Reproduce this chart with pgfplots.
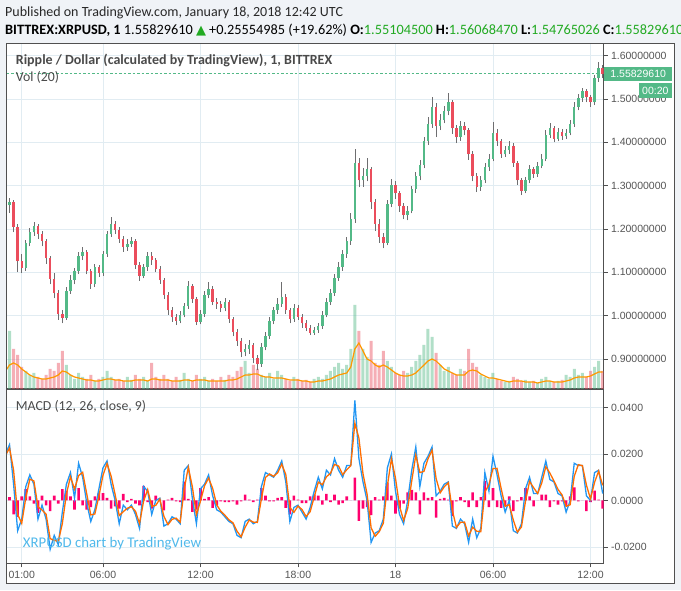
\documentclass[border=0pt]{standalone}
\usepackage{pgfplots}
\pgfplotsset{compat=1.18}
\usepackage{pgfplotstable}
\usepackage{fontspec}
\setmainfont{Carlito}
\newfontfamily\lib{Liberation Sans}
\newfontfamily\dejavu{DejaVu Sans}
\definecolor{upc}{RGB}{83,185,135}
\definecolor{dnc}{RGB}{235,77,92}
\definecolor{wickc}{RGB}{110,110,112}
\definecolor{gridc}{RGB}{225,236,242}
\definecolor{framec}{RGB}{80,80,80}
\definecolor{bgc}{RGB}{240,243,247}
\definecolor{txtc}{RGB}{74,74,74}
\definecolor{scalec}{RGB}{85,85,85}
\definecolor{macdc}{RGB}{33,150,243}
\definecolor{sigc}{RGB}{255,109,0}
\definecolor{histc}{RGB}{255,0,110}
\definecolor{volma}{RGB}{255,152,0}
\definecolor{hdrgreen}{RGB}{34,170,34}
\definecolor{wmblue}{RGB}{80,185,235}
\definecolor{hdrtxt}{RGB}{40,40,40}

\pgfplotstableread{
t o h l c v vm m s hg
0 1.240 1.262 1.228 1.255 30 18 0.020 0.0193 0.0007
0.25 1.255 1.271 1.238 1.262 58 24 0.024 0.0226 0.0014
0.5 1.262 1.266 1.192 1.205 40 26 0.007 0.0130 -0.0060
0.75 1.205 1.212 1.100 1.125 34 24 -0.013 -0.0060 -0.0070
1 1.125 1.142 1.098 1.110 22 20 -0.008 -0.0098 0.0018
1.25 1.110 1.175 1.104 1.168 18 17 0.006 0.0011 0.0049
1.5 1.168 1.202 1.160 1.192 14 14 0.011 0.0092 0.0018
1.75 1.192 1.216 1.184 1.208 16 12 0.007 0.0084 -0.0014
2 1.208 1.212 1.178 1.188 12 11 -0.008 -0.0027 -0.0053
2.25 1.188 1.195 1.160 1.172 10 10 -0.002 -0.0041 0.0021
2.5 1.172 1.178 1.120 1.132 14 10 -0.008 -0.0059 -0.0021
2.75 1.132 1.138 1.072 1.085 20 11 -0.021 -0.0164 -0.0046
3 1.085 1.098 1.040 1.052 18 12 -0.015 -0.0171 0.0021
3.25 1.052 1.060 0.990 1.003 26 14 -0.019 -0.0176 -0.0014
3.5 1.003 1.012 0.982 0.995 38 18 -0.005 -0.0099 0.0049
3.75 0.995 1.066 0.990 1.058 24 17 0.007 0.0028 0.0042
4 1.058 1.094 1.050 1.082 14 14 0.012 0.0102 0.0018
4.25 1.082 1.110 1.072 1.102 10 12 0.001 0.0049 -0.0039
4.5 1.102 1.146 1.096 1.138 16 11 0.016 0.0107 0.0053
4.75 1.138 1.158 1.128 1.148 12 10 0.010 0.0121 -0.0021
5 1.148 1.152 1.095 1.103 10 9 -0.001 0.0029 -0.0039
5.25 1.103 1.108 1.062 1.072 14 9 -0.009 -0.0062 -0.0028
5.5 1.072 1.120 1.066 1.112 8 8 -0.004 -0.0058 0.0018
5.75 1.112 1.118 1.090 1.098 10 8 0.005 0.0018 0.0032
6 1.098 1.150 1.092 1.142 12 9 0.014 0.0108 0.0032
6.25 1.142 1.196 1.136 1.188 18 10 0.017 0.0159 0.0011
6.5 1.188 1.227 1.182 1.212 12 10 0.007 0.0105 -0.0035
6.75 1.212 1.218 1.188 1.198 9 9 0.000 0.0025 -0.0025
7 1.198 1.204 1.168 1.178 10 9 -0.010 -0.0065 -0.0035
7.25 1.178 1.184 1.148 1.158 8 8 -0.002 -0.0048 0.0028
7.5 1.158 1.176 1.150 1.166 12 8 -0.004 -0.0033 -0.0007
7.75 1.166 1.182 1.158 1.172 9 8 -0.002 -0.0027 0.0007
8 1.172 1.176 1.108 1.118 14 9 -0.006 -0.0046 -0.0014
8.25 1.118 1.124 1.080 1.092 10 9 -0.012 -0.0099 -0.0021
8.5 1.092 1.120 1.086 1.112 12 9 0.006 -0.0003 0.0063
8.75 1.112 1.148 1.104 1.138 8 8 0.004 0.0047 -0.0007
9 1.138 1.146 1.118 1.128 26 10 -0.006 -0.0025 -0.0035
9.25 1.128 1.134 1.100 1.108 12 10 0.000 -0.0021 0.0021
9.5 1.108 1.114 1.074 1.082 10 9 0.001 0.0006 0.0004
9.75 1.082 1.088 1.038 1.048 14 9 -0.011 -0.0068 -0.0042
10 1.048 1.054 1.002 1.012 10 9 -0.010 -0.0104 0.0004
10.25 1.012 1.020 0.986 0.996 8 8 -0.007 -0.0081 0.0011
10.5 0.996 1.004 0.978 0.988 12 8 -0.008 -0.0076 -0.0004
10.75 0.988 1.010 0.982 1.002 9 8 -0.010 -0.0093 -0.0007
11 1.002 1.030 0.996 1.022 16 9 0.013 0.0049 0.0081
11.25 1.022 1.080 1.016 1.068 10 9 0.015 0.0143 0.0007
11.5 1.068 1.074 1.030 1.038 8 8 0.001 0.0059 -0.0049
11.75 1.038 1.044 0.978 0.986 14 9 -0.010 -0.0061 -0.0039
12 0.986 1.012 0.980 1.004 10 9 0.005 -0.0003 0.0053
12.25 1.004 1.056 0.998 1.048 12 9 0.007 0.0063 0.0007
12.5 1.048 1.077 1.040 1.062 8 8 0.011 0.0096 0.0014
12.75 1.062 1.068 1.024 1.032 10 8 0.002 0.0052 -0.0032
13 1.032 1.040 1.016 1.026 8 8 -0.004 -0.0019 -0.0021
13.25 1.026 1.034 1.008 1.018 12 8 -0.005 -0.0046 -0.0004
13.5 1.018 1.040 1.010 1.031 9 8 -0.007 -0.0063 -0.0007
13.75 1.031 1.036 0.984 0.992 14 9 -0.009 -0.0083 -0.0007
14 0.992 0.998 0.952 0.962 12 9 -0.010 -0.0096 -0.0004
14.25 0.962 0.970 0.930 0.941 18 10 -0.015 -0.0132 -0.0018
14.5 0.941 0.948 0.904 0.916 22 12 -0.016 -0.0156 -0.0004
14.75 0.916 0.934 0.906 0.922 28 14 -0.009 -0.0115 0.0025
15 0.922 0.944 0.912 0.932 16 14 -0.008 -0.0084 0.0004
15.25 0.932 0.938 0.890 0.902 24 15 -0.010 -0.0093 -0.0007
15.5 0.902 0.910 0.874 0.888 20 15 -0.009 -0.0094 0.0004
15.75 0.888 0.936 0.882 0.928 14 13 0.006 0.0007 0.0053
16 0.928 0.962 0.920 0.952 12 12 0.012 0.0099 0.0021
16.25 0.952 0.996 0.946 0.988 16 12 0.011 0.0114 -0.0004
16.5 0.988 1.020 0.980 1.012 10 11 0.010 0.0104 -0.0004
16.75 1.012 1.040 1.004 1.028 18 11 0.013 0.0119 0.0011
17 1.028 1.077 1.020 1.042 14 11 0.017 0.0156 0.0014
17.25 1.042 1.050 1.004 1.012 10 10 0.008 0.0112 -0.0032
17.5 1.012 1.018 0.982 0.992 8 9 -0.009 -0.0030 -0.0060
17.75 0.992 1.026 0.986 1.018 12 9 -0.003 -0.0051 0.0021
18 1.018 1.024 0.990 0.998 10 9 -0.002 -0.0024 0.0004
18.25 0.998 1.004 0.972 0.982 8 8 -0.005 -0.0039 -0.0011
18.5 0.982 0.990 0.964 0.972 9 8 -0.008 -0.0069 -0.0011
18.75 0.972 0.978 0.955 0.961 7 7 -0.003 -0.0048 0.0018
19 0.961 0.974 0.956 0.966 10 7 0.004 0.0015 0.0025
19.25 0.966 0.984 0.960 0.976 12 8 0.010 0.0079 0.0021
19.5 0.976 1.010 0.970 1.002 10 8 0.005 0.0068 -0.0018
19.75 1.002 1.040 0.996 1.032 14 9 0.013 0.0102 0.0028
20 1.032 1.062 1.024 1.052 18 10 0.011 0.0117 -0.0007
20.25 1.052 1.096 1.046 1.088 22 12 0.018 0.0155 0.0025
20.5 1.088 1.124 1.080 1.112 26 14 0.013 0.0148 -0.0018
20.75 1.112 1.152 1.104 1.142 20 15 0.010 0.0111 -0.0011
21 1.142 1.182 1.134 1.172 24 16 0.015 0.0132 0.0018
21.25 1.172 1.236 1.164 1.222 40 22 0.015 0.0150 0.0000
21.5 1.222 1.384 1.214 1.352 84 40 0.043 0.0332 0.0098
21.75 1.352 1.364 1.296 1.312 58 46 0.018 0.0268 -0.0088
22 1.312 1.340 1.298 1.322 40 38 0.008 0.0115 -0.0035
22.25 1.322 1.364 1.310 1.338 32 30 0.000 0.0028 -0.0028
22.5 1.338 1.344 1.246 1.262 48 28 -0.018 -0.0117 -0.0063
22.75 1.262 1.270 1.196 1.212 26 24 -0.014 -0.0154 0.0014
23 1.212 1.222 1.168 1.182 24 22 -0.013 -0.0134 0.0004
23.25 1.182 1.190 1.155 1.168 38 24 -0.008 -0.0098 0.0018
23.5 1.168 1.268 1.162 1.258 28 22 0.014 0.0063 0.0077
23.75 1.258 1.316 1.250 1.302 22 19 0.020 0.0179 0.0021
24 1.302 1.310 1.270 1.282 16 16 0.004 0.0096 -0.0056
24.25 1.282 1.288 1.240 1.252 14 14 -0.006 -0.0025 -0.0035
24.5 1.252 1.260 1.222 1.232 18 13 -0.010 -0.0086 -0.0014
24.75 1.232 1.252 1.220 1.242 16 13 0.000 -0.0035 0.0035
25 1.242 1.300 1.236 1.292 22 14 0.013 0.0084 0.0046
25.25 1.292 1.332 1.284 1.322 28 16 0.023 0.0195 0.0035
25.5 1.322 1.360 1.312 1.348 34 20 0.006 0.0120 -0.0060
25.75 1.348 1.412 1.340 1.402 44 24 0.016 0.0125 0.0035
26 1.402 1.458 1.394 1.442 60 28 0.019 0.0179 0.0011
26.25 1.442 1.505 1.434 1.482 52 30 0.023 0.0216 0.0014
26.5 1.482 1.490 1.412 1.438 36 28 0.002 0.0094 -0.0074
26.75 1.438 1.466 1.428 1.452 24 24 0.004 0.0033 0.0007
27 1.452 1.484 1.444 1.472 18 20 0.007 0.0059 0.0011
27.25 1.472 1.514 1.462 1.492 22 18 0.008 0.0076 0.0004
27.5 1.492 1.498 1.420 1.432 16 16 -0.011 -0.0043 -0.0067
27.75 1.432 1.440 1.398 1.412 14 14 -0.012 -0.0116 -0.0004
28 1.412 1.450 1.404 1.438 20 14 -0.008 -0.0094 0.0014
28.25 1.438 1.446 1.416 1.428 18 14 -0.010 -0.0093 -0.0007
28.5 1.428 1.434 1.360 1.372 40 18 -0.018 -0.0152 -0.0028
28.75 1.372 1.380 1.310 1.322 26 19 -0.008 -0.0115 0.0035
29 1.322 1.330 1.285 1.298 22 18 -0.016 -0.0132 -0.0028
29.25 1.298 1.322 1.288 1.312 14 15 -0.012 -0.0134 0.0014
29.5 1.312 1.352 1.306 1.342 12 13 0.012 0.0036 0.0084
29.75 1.342 1.372 1.334 1.362 10 11 0.004 0.0068 -0.0028
30 1.362 1.447 1.356 1.422 16 11 0.019 0.0137 0.0053
30.25 1.422 1.430 1.392 1.402 10 10 0.011 0.0138 -0.0028
30.5 1.402 1.408 1.364 1.372 8 9 0.002 0.0052 -0.0032
30.75 1.372 1.392 1.366 1.382 7 8 -0.005 -0.0025 -0.0025
31 1.382 1.404 1.374 1.392 8 7 0.000 -0.0018 0.0018
31.25 1.392 1.398 1.344 1.352 12 8 -0.013 -0.0084 -0.0046
31.5 1.352 1.358 1.302 1.312 10 8 -0.014 -0.0136 -0.0004
31.75 1.312 1.318 1.278 1.288 8 8 -0.010 -0.0114 0.0014
32 1.288 1.320 1.282 1.312 9 7 0.005 -0.0003 0.0053
32.25 1.312 1.348 1.306 1.338 7 7 0.010 0.0082 0.0018
32.5 1.338 1.344 1.318 1.328 8 7 0.003 0.0055 -0.0025
32.75 1.328 1.354 1.320 1.346 6 6 0.003 0.0030 0.0000
33 1.346 1.372 1.340 1.362 10 7 0.010 0.0075 0.0025
33.25 1.362 1.428 1.356 1.418 12 8 0.017 0.0145 0.0025
33.5 1.418 1.444 1.410 1.432 8 8 0.009 0.0118 -0.0028
33.75 1.432 1.438 1.400 1.408 7 7 0.008 0.0084 -0.0004
34 1.408 1.432 1.402 1.424 8 7 0.003 0.0048 -0.0018
34.25 1.424 1.430 1.406 1.414 9 7 0.002 0.0024 -0.0004
34.5 1.414 1.430 1.408 1.422 14 8 -0.005 -0.0025 -0.0025
34.75 1.422 1.452 1.416 1.442 12 9 0.000 -0.0018 0.0018
35 1.442 1.492 1.436 1.482 20 11 0.016 0.0104 0.0056
35.25 1.482 1.512 1.474 1.502 14 12 0.015 0.0154 -0.0004
35.5 1.502 1.526 1.494 1.518 16 12 0.015 0.0150 0.0000
35.75 1.518 1.522 1.492 1.504 12 12 0.002 0.0066 -0.0046
36 1.504 1.510 1.482 1.492 18 13 0.000 0.0007 -0.0007
36.25 1.492 1.556 1.486 1.548 22 15 0.012 0.0078 0.0042
36.5 1.548 1.585 1.540 1.572 28 17 0.013 0.0126 0.0004
36.75 1.572 1.578 1.548 1.558 18 17 0.003 0.0065 -0.0035
}\data

\pgfplotsset{
  tvpane/.style={anchor=south west, scale only axis, width=596.8pt,
    xmin=0.076, xmax=36.8, clip=true, scaled ticks=false},
}

\begin{document}
\begin{tikzpicture}
\useasboundingbox (0pt,0pt) rectangle (681pt,590pt);
\clip (0pt,0pt) rectangle (681pt,590pt);
\fill[bgc] (0pt,0pt) rectangle (681pt,590pt);
\fill[white] (6.7pt,7pt) rectangle (674pt,546.7pt);

% price pane: grid, frame, scale
\begin{axis}[tvpane, at={(6.7pt,201pt)}, height=345.7pt,
  ymin=0.8307, ymax=1.6286,
  axis line style={framec, line width=1pt},
  xtick={1,6,12,18,24,30,36}, xticklabels={}, xtick style={draw=none},
  ytick={0.9,1.0,1.1,1.2,1.3,1.4,1.5,1.6},
  yticklabels={0.90000000,1.00000000,1.10000000,1.20000000,1.30000000,1.40000000,1.50000000,1.60000000},
  ytick pos=right, yticklabel pos=right, tick align=outside, major tick length=4pt,
  ytick style={framec, line width=0.7pt},
  grid=major, major grid style={gridc, line width=0.9pt},
  yticklabel style={font=\lib\fontsize{10.5}{12}\selectfont, text=scalec}]
\end{axis}

% volume overlay
\begin{axis}[tvpane, at={(6.7pt,201pt)}, height=345.7pt, ymin=0, ymax=345.7, hide axis]
\addplot[ybar, bar width=3pt, bar shift=0pt, draw=none, fill=upc, fill opacity=0.45,
  restrict expr to domain={\thisrow{c}-\thisrow{o}}{0:1}] table[x=t,y=v]{\data};
\addplot[ybar, bar width=3pt, bar shift=0pt, draw=none, fill=dnc, fill opacity=0.45,
  restrict expr to domain={\thisrow{o}-\thisrow{c}}{0:1}] table[x=t,y=v]{\data};
\addplot[volma, line width=1.2pt, mark=none] table[x=t,y=vm]{\data};
\end{axis}

% candles overlay
\begin{axis}[tvpane, at={(6.7pt,201pt)}, height=345.7pt, ymin=0.8307, ymax=1.6286, hide axis]
\addplot[upc, line width=1pt, dash pattern=on 2.5pt off 2pt, mark=none] coordinates {(0.076,1.5582961) (36.8,1.5582961)};
\addplot[draw=none, mark=none,
  error bars/.cd, y dir=plus, y explicit, error mark=none,
  error bar style={draw=wickc, line width=0.7pt}]
  table[x=t, y=l, y error plus expr=\thisrow{h}-\thisrow{l}] {\data};
\addplot[draw=none, mark=none, restrict expr to domain={\thisrow{c}-\thisrow{o}}{0:1},
  error bars/.cd, y dir=plus, y explicit, error mark=none,
  error bar style={draw=upc, line width=2.4pt}]
  table[x=t, y=o, y error plus expr=\thisrow{c}-\thisrow{o}] {\data};
\addplot[draw=none, mark=none, restrict expr to domain={\thisrow{o}-\thisrow{c}}{0:1},
  error bars/.cd, y dir=plus, y explicit, error mark=none,
  error bar style={draw=dnc, line width=2.4pt}]
  table[x=t, y=c, y error plus expr=\thisrow{o}-\thisrow{c}] {\data};
\end{axis}

% MACD pane
\begin{axis}[tvpane, at={(6.7pt,26.7pt)}, height=173.3pt,
  ymin=-0.027, ymax=0.0475,
  axis line style={framec, line width=1pt},
  xtick={1,6,12,18,24,30,36}, xticklabels={01:00,06:00,12:00,18:00,18,06:00,12:00},
  ytick={-0.02,0,0.02,0.04}, yticklabels={-0.0200,0.0000,0.0200,0.0400},
  xtick pos=bottom, ytick pos=right, yticklabel pos=right, tick align=outside,
  major tick length=4pt, tick style={framec, line width=0.7pt},
  grid=major, major grid style={gridc, line width=0.9pt},
  ticklabel style={font=\lib\fontsize{10.5}{12}\selectfont, text=scalec}]
\addplot[ybar, bar width=2.6pt, bar shift=0pt, draw=none, fill=histc] table[x=t,y=hg]{\data};
\addplot[macdc, line width=1.3pt, mark=none] table[x=t,y=m]{\data};
\addplot[sigc, line width=1.3pt, mark=none] table[x=t,y=s]{\data};
\end{axis}

% outer frame
\draw[framec, line width=1pt] (6.7pt,7pt) rectangle (674pt,546.7pt);

% header
\node[anchor=base west, inner sep=0pt, text=hdrtxt, font=\fontsize{14}{16}\selectfont] at (5pt,573.5pt)
  {Published on TradingView.com, January 18, 2018 12:42 UTC};
\node[anchor=base west, inner sep=0pt, text=black, font=\fontsize{14.3}{16}\selectfont] at (5pt,555.5pt)
  {\textbf{BITTREX:XRPUSD, 1} 1.55829610 {\dejavu\fontsize{13}{14}\selectfont\textcolor{hdrgreen}{▲}} +0.25554985 (+19.62\%)
   \textbf{O:}\textcolor{hdrgreen}{1.55104500} \textbf{H:}\textcolor{hdrgreen}{1.56068470}
   \textbf{L:}\textcolor{hdrgreen}{1.54765026} \textbf{C:}\textcolor{hdrgreen}{1.55829610}};

% pane labels
\node[anchor=base west, inner sep=0pt, text=txtc, font=\bfseries\fontsize{14}{16}\selectfont] at (15.7pt,525pt)
  {Ripple / Dollar (calculated by TradingView), 1, BITTREX};
\node[anchor=base west, inner sep=0pt, text=txtc, font=\fontsize{13.8}{16}\selectfont] at (15.7pt,508pt) {Vol (20)};
\node[anchor=base west, inner sep=0pt, text=txtc, font=\fontsize{13.8}{16}\selectfont] at (15.7pt,179pt) {MACD (12, 26, close, 9)};
\node[anchor=base west, inner sep=0pt, text=wmblue, font=\fontsize{14.8}{17}\selectfont] at (22.7pt,43pt) {XRPUSD chart by TradingView};

% price tags
\node[fill=upc, text=white, font=\lib\fontsize{10.5}{12}\selectfont, anchor=west,
  minimum width=68pt, minimum height=14pt, inner sep=0pt] at (604pt,515.7pt) {1.55829610};
\node[fill=upc, text=white, font=\lib\fontsize{10.5}{12}\selectfont, anchor=east,
  minimum width=33pt, minimum height=15pt, inner sep=0pt] at (672pt,499.5pt) {00:20};
\end{tikzpicture}
\end{document}
